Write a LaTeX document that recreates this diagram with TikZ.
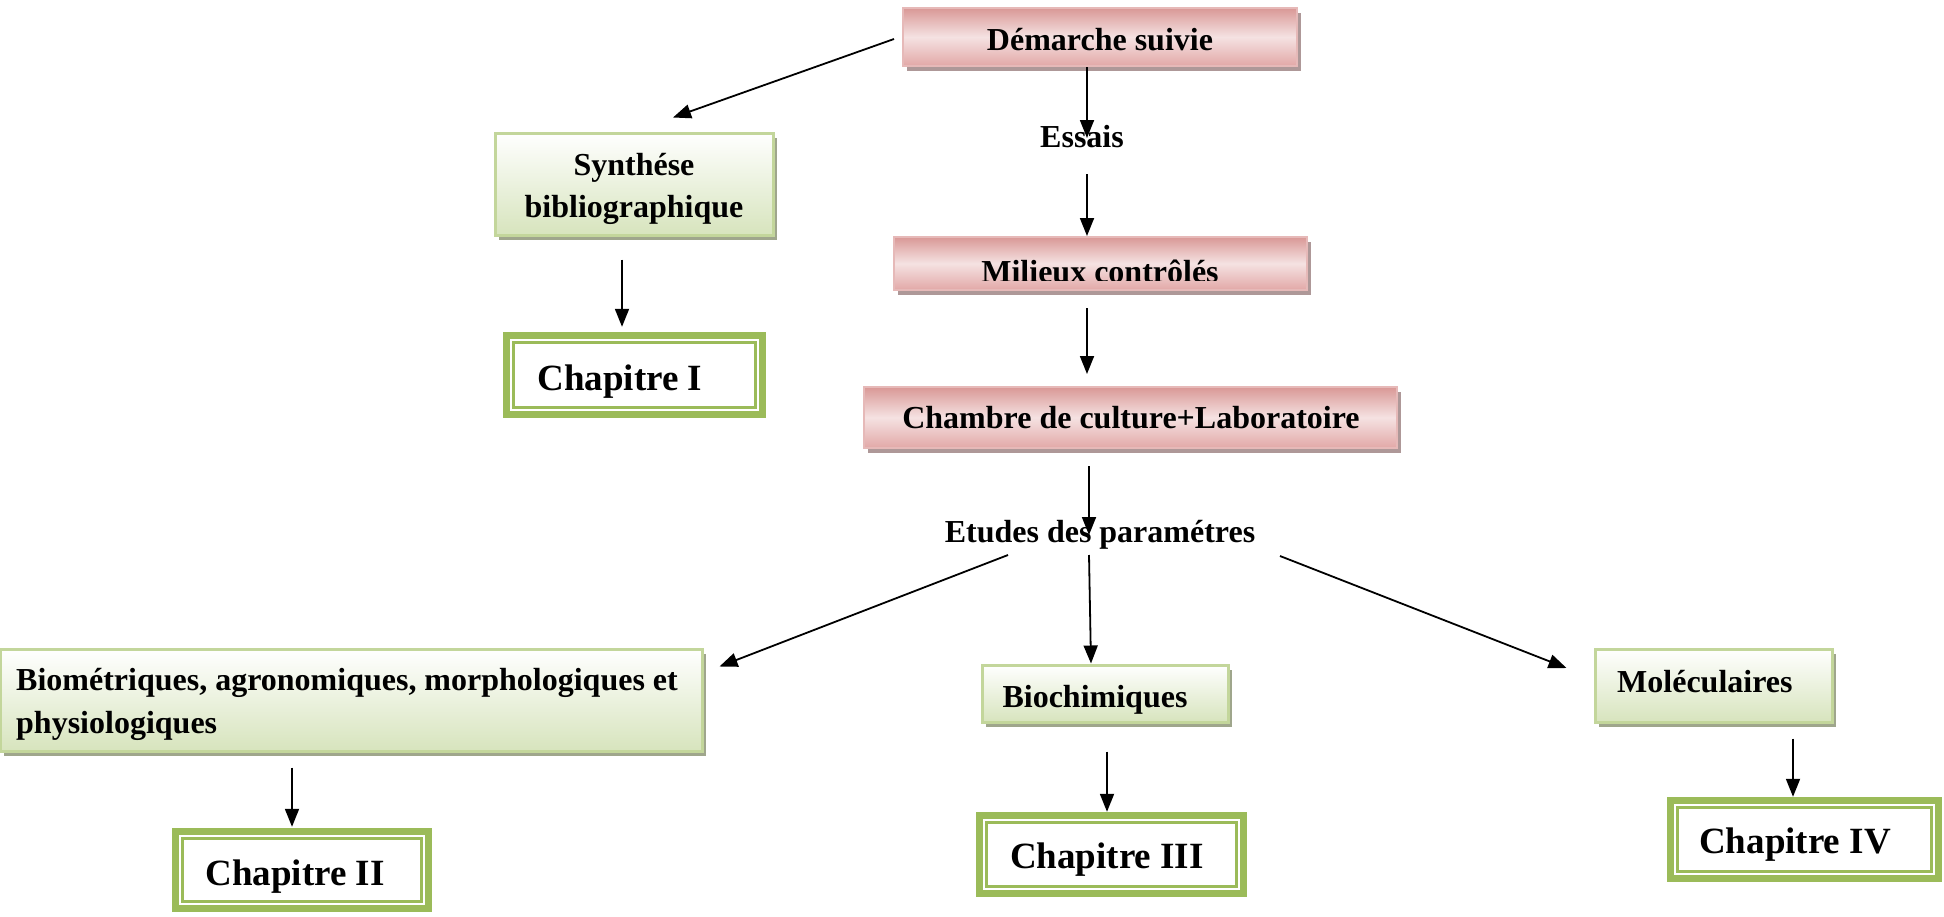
\documentclass[tikz,border=0pt]{standalone}
\usepackage{fontspec}
\setmainfont{Liberation Serif}
\usetikzlibrary{arrows.meta,shadows}
\definecolor{chapgreen}{HTML}{9BBB59}
\definecolor{gbord}{HTML}{C3D69B}
\definecolor{gbot}{HTML}{D7E4BD}
\definecolor{gshadow}{HTML}{9FA68C}
\definecolor{pbord}{HTML}{E6B9B8}
\definecolor{ptop}{HTML}{D99896}
\definecolor{pmid}{HTML}{F5E2E2}
\definecolor{pbot}{HTML}{E2A8A7}
\definecolor{pshadow}{HTML}{AE9898}
\tikzset{
  arr/.style={line width=1.8pt, -{Triangle[length=18pt,width=14pt]}},
  pinkbox/.style={rectangle, draw=pbord, line width=2pt, top color=ptop, bottom color=pbot, middle color=pmid, inner sep=0pt,
    drop shadow={shadow xshift=4pt, shadow yshift=-5pt, fill=pshadow, opacity=1}},
  greenbox/.style={rectangle, draw=gbord, line width=3pt, top color=white, bottom color=gbot, inner sep=0pt,
    drop shadow={shadow xshift=4pt, shadow yshift=-5pt, fill=gshadow, opacity=1}},
  chapbox/.style={rectangle, fill=chapgreen, inner sep=0pt,
    path picture={
      \fill[white] ([shift={(7pt,-7pt)}]path picture bounding box.north west) rectangle ([shift={(-7pt,7pt)}]path picture bounding box.south east);
      \draw[chapgreen, line width=2.5pt] ([shift={(10.5pt,-10.5pt)}]path picture bounding box.north west) rectangle ([shift={(-10.5pt,10.5pt)}]path picture bounding box.south east);
    }},
  lbl/.style={font=\fontsize{32}{38}\selectfont\bfseries, inner sep=0pt, anchor=base},
  lblw/.style={font=\fontsize{32}{38}\selectfont\bfseries, inner sep=0pt, anchor=base west},
  chl/.style={font=\fontsize{37}{44}\selectfont\bfseries, inner sep=0pt, anchor=base},
}
\begin{document}
\begin{tikzpicture}[x=1pt,y=-1pt]
\useasboundingbox[fill=white] (0,0) rectangle (1944,916);

% pink boxes
\node[pinkbox, minimum width=394pt, minimum height=58pt] (dem) at (1100,37) {};
\node[pinkbox, minimum width=413pt, minimum height=53pt] (mil) at (1100.5,263.5) {};
\node[pinkbox, minimum width=533pt, minimum height=61pt] (cha) at (1130.5,417.5) {};

% green boxes
\node[greenbox, minimum width=278pt, minimum height=102pt] (syn) at (634,184) {};
\node[greenbox, minimum width=702pt, minimum height=102pt] (bio) at (351,700) {};
\node[greenbox, minimum width=246pt, minimum height=57pt] (bch) at (1105,693.5) {};
\node[greenbox, minimum width=237pt, minimum height=73pt] (mol) at (1713.5,685.5) {};

% chapitre boxes
\node[chapbox, minimum width=263pt, minimum height=86pt] (c1) at (634.5,375) {};
\node[chapbox, minimum width=260pt, minimum height=84pt] (c2) at (302,870) {};
\node[chapbox, minimum width=271pt, minimum height=85pt] (c3) at (1111.5,854.5) {};
\node[chapbox, minimum width=275pt, minimum height=85pt] (c4) at (1804.5,839.5) {};

% texts
\node[lbl] (demT) at (1100,50) {Démarche suivie};
\node[lbl] (ess) at (1082,147) {Essais};
\begin{scope}
  \clip (890,230) rectangle (1310,280);
  \node[lbl] (milT) at (1100,282) {Milieux contrôlés};
\end{scope}
\node[lbl] (chaT) at (1131,428) {Chambre de culture+Laboratoire};
\node[lbl] (etu) at (1100,542) {Etudes des paramétres};
\node[lbl] (synT1) at (634,175) {Synthése};
\node[lbl] (synT2) at (634,217) {bibliographique};
\node[lblw] (bioT1) at (16,690) {Biométriques, agronomiques, morphologiques et};
\node[lblw] (bioT2) at (16,733) {physiologiques};
\node[lbl] (bchT) at (1095,707) {Biochimiques};
\node[lblw] (molT) at (1617,692) {Moléculaires};
\node[chl] (c1T) at (620,390) {Chapitre I};
\node[chl] (c2T) at (295,885) {Chapitre II};
\node[chl] (c3T) at (1107,868) {Chapitre III};
\node[chl] (c4T) at (1795,853) {Chapitre IV};

% connectors
\draw[arr] ([xshift=-8pt,yshift=-2pt]dem.west) -- ([xshift=39pt,yshift=14pt]syn.north);
\draw[arr] ([xshift=-13pt]dem.south) -- ([xshift=5pt,yshift=9pt]ess.base);
\draw[arr] ([xshift=5pt,yshift=-27pt]ess.base) -- ([xshift=-13.5pt]mil.north);
\draw[arr] ([xshift=-12pt,yshift=-23pt]syn.south) -- ([xshift=-12.5pt,yshift=5pt]c1.north);
\draw[arr] ([xshift=-13.5pt,yshift=-17pt]mil.south) -- ([xshift=-43.5pt,yshift=12pt]cha.north);
\draw[arr] ([xshift=-41.5pt,yshift=-17pt]cha.south) -- ([xshift=-11pt,yshift=7pt]etu.base);
\draw[arr] ([xshift=-92pt,yshift=-13pt]etu.base) -- ([xshift=16pt,yshift=-19pt]bio.north east);
\draw[arr] ([xshift=-11pt,yshift=-13pt]etu.base) -- ([xshift=-14pt]bch.north);
\draw[arr] ([xshift=180pt,yshift=-14pt]etu.base) -- ([xshift=-27pt,yshift=17.5pt]mol.west);
\draw[arr] ([xshift=-59pt,yshift=-15pt]bio.south) -- ([xshift=-10pt,yshift=1pt]c2.north);
\draw[arr] ([xshift=2pt,yshift=-28pt]bch.south) -- ([xshift=-4.5pt]c3.north);
\draw[arr] ([xshift=79.5pt,yshift=-15pt]mol.south) -- ([xshift=-11.5pt]c4.north);
\end{tikzpicture}
\end{document}
